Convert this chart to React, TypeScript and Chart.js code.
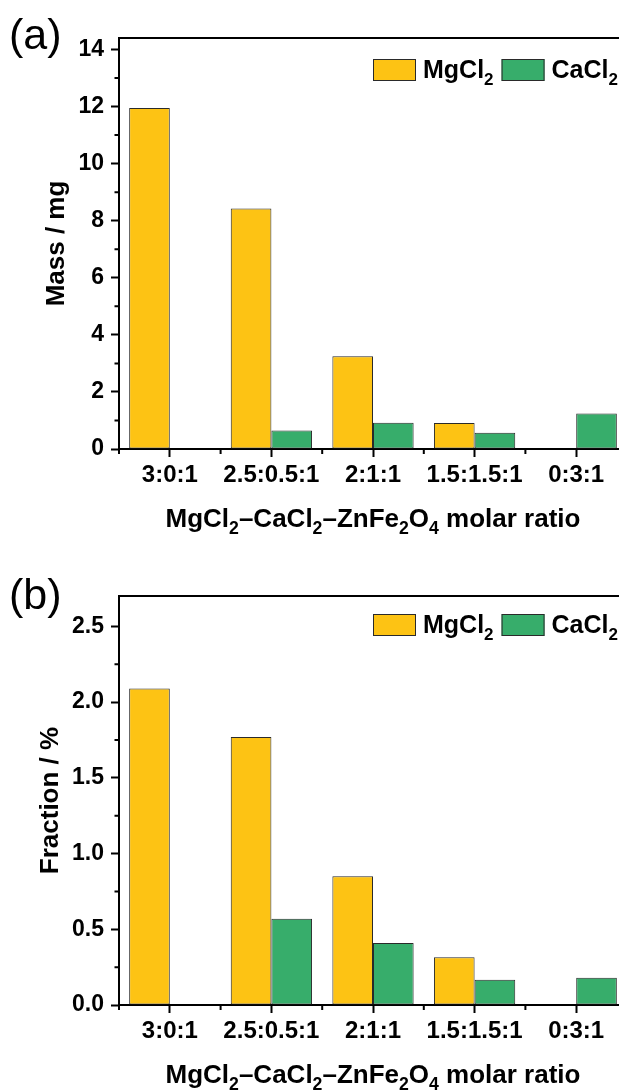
import React, { useEffect, useRef } from "react";
import { Chart, registerables } from "chart.js";

Chart.register(...registerables);

// ---------- data ----------
const categories = ["3:0:1", "2.5:0.5:1", "2:1:1", "1.5:1.5:1", "0:3:1"];
const seriesNames = ["MgCl2", "CaCl2"];
const massMgCl2 = [11.95, 8.43, 3.25, 0.91, 0];
const massCaCl2 = [0, 0.65, 0.92, 0.57, 1.24];
const fractionMgCl2 = [2.09, 1.77, 0.85, 0.315, 0];
const fractionCaCl2 = [0, 0.57, 0.41, 0.166, 0.18];
const massTicks = [0, 2, 4, 6, 8, 10, 12, 14];
const massMinorTicks = [1, 3, 5, 7, 9, 11, 13];
const fractionTicks = [0, 0.5, 1.0, 1.5, 2.0, 2.5];
const fractionMinorTicks = [0.25, 0.75, 1.25, 1.75, 2.25];
const xAxisTitle = "MgCl2–CaCl2–ZnFe2O4 molar ratio";
const massTitle = "Mass / mg";
const fractionTitle = "Fraction / %";

// ---------- style ----------
const FONT = "'Liberation Sans', Arial, Helvetica, sans-serif";
const YELLOW = "#FDC314";
const GREEN = "#37AD6B";
const EDGE = "#2a2a2a";

type Part = { t: string; sub: boolean };

function splitRich(s: string): Part[] {
  const parts: Part[] = [];
  for (let i = 0; i < s.length; i++) {
    const ch = s[i];
    const sub = /\d/.test(ch) && i > 0 && /[A-Za-z]/.test(s[i - 1]);
    const last = parts[parts.length - 1];
    if (last && last.sub === sub) last.t += ch;
    else parts.push({ t: ch, sub });
  }
  return parts;
}

function richWidth(ctx: CanvasRenderingContext2D, s: string, size: number) {
  let w = 0;
  for (const p of splitRich(s)) {
    ctx.font = `bold ${p.sub ? size * 0.68 : size}px ${FONT}`;
    w += ctx.measureText(p.t).width;
  }
  return w;
}

function drawRich(
  ctx: CanvasRenderingContext2D,
  s: string,
  x: number,
  y: number,
  size: number,
  align: "left" | "center"
) {
  const total = richWidth(ctx, s, size);
  let cx = align === "center" ? x - total / 2 : x;
  ctx.textAlign = "left";
  ctx.textBaseline = "alphabetic";
  ctx.fillStyle = "#000";
  for (const p of splitRich(s)) {
    ctx.font = `bold ${p.sub ? size * 0.68 : size}px ${FONT}`;
    ctx.fillText(p.t, cx, p.sub ? y + size * 0.27 : y);
    cx += ctx.measureText(p.t).width;
  }
  return total;
}

const decoPlugin = {
  id: "deco",
  afterDraw(chart: any, _args: any, opts: any) {
    const ctx: CanvasRenderingContext2D = chart.ctx;
    const { left, right, top, bottom } = chart.chartArea;
    const xs = chart.scales.x;
    const ys = chart.scales.y;
    ctx.save();
    // top frame line
    ctx.strokeStyle = "#000";
    ctx.lineWidth = 2;
    ctx.beginPath();
    ctx.moveTo(left - 1, top);
    ctx.lineTo(right, top);
    ctx.stroke();
    // minor y ticks
    ctx.beginPath();
    for (const v of opts.minorY as number[]) {
      const py = ys.getPixelForValue(v);
      ctx.moveTo(left - 4.5, py);
      ctx.lineTo(left, py);
    }
    // minor x ticks (category boundaries)
    for (let i = 0; i <= categories.length; i++) {
      const px = xs.getPixelForValue(i - 0.5);
      ctx.moveTo(px, bottom);
      ctx.lineTo(px, bottom + 5);
    }
    ctx.stroke();

    // legend
    const boxW = 43;
    const boxH = 22;
    const boxTop = top + opts.legendTop;
    let x = right - 254;
    chart.data.datasets.forEach((ds: any, i: number) => {
      ctx.fillStyle = ds.backgroundColor;
      ctx.fillRect(x, boxTop, boxW, boxH);
      ctx.strokeStyle = EDGE;
      ctx.lineWidth = 1;
      ctx.strokeRect(x + 0.5, boxTop + 0.5, boxW - 1, boxH - 1);
      x += boxW + 7;
      const w = drawRich(ctx, ds.label, x, boxTop + 19.3, 25, "left");
      x += w + 8;
    });

    // x axis title
    drawRich(ctx, opts.xTitle, (left + right) / 2, bottom + 78, 26, "center");

    // panel letter
    ctx.font = `normal 43px ${FONT}`;
    ctx.fillStyle = "#000";
    ctx.textAlign = "left";
    ctx.textBaseline = "alphabetic";
    ctx.fillText(opts.panel, 9, opts.panelBaseline);
    ctx.restore();
  },
};

function buildConfig(p: {
  mg: number[];
  ca: number[];
  max: number;
  ticks: number[];
  minor: number[];
  yTitle: string;
  yTitlePad: number;
  topPad: number;
  xHeight: number;
  decimals: number;
  panel: string;
  panelBaseline: number;
  legendTop: number;
}): any {
  const bw = (c: any) => (c.raw ? 1 : 0);
  return {
    type: "bar",
    data: {
      labels: categories,
      datasets: [
        {
          label: seriesNames[0],
          data: p.mg,
          backgroundColor: YELLOW,
          borderColor: EDGE,
          borderWidth: bw,
          borderSkipped: false,
          categoryPercentage: 0.8,
          barPercentage: 1.0,
        },
        {
          label: seriesNames[1],
          data: p.ca,
          backgroundColor: GREEN,
          borderColor: EDGE,
          borderWidth: bw,
          borderSkipped: false,
          categoryPercentage: 0.8,
          barPercentage: 1.0,
        },
      ],
    },
    options: {
      responsive: false,
      animation: false,
      devicePixelRatio: 1,
      layout: { padding: { top: p.topPad, left: 0, right: 0, bottom: 0 } },
      plugins: {
        legend: { display: false },
        tooltip: { enabled: false },
        deco: {
          minorY: p.minor,
          legendTop: p.legendTop,
          xTitle: xAxisTitle,
          panel: p.panel,
          panelBaseline: p.panelBaseline,
        },
      },
      scales: {
        x: {
          type: "category",
          offset: true,
          grid: {
            drawOnChartArea: false,
            offset: false,
            tickLength: 8,
            tickWidth: 2,
            tickColor: "#000",
          },
          border: { display: true, width: 2, color: "#000" },
          ticks: {
            color: "#000",
            font: { family: FONT, size: 24, weight: "bold" },
            padding: 4,
            maxRotation: 0,
            autoSkip: false,
          },
          afterFit: (s: any) => {
            s.height = p.xHeight;
          },
        },
        y: {
          type: "linear",
          min: 0,
          max: p.max,
          afterBuildTicks: (s: any) => {
            s.ticks = p.ticks.map((v) => ({ value: v }));
          },
          grid: {
            drawOnChartArea: false,
            tickLength: 8,
            tickWidth: 2,
            tickColor: "#000",
          },
          border: { display: true, width: 2, color: "#000" },
          ticks: {
            color: "#000",
            font: { family: FONT, size: 23, weight: "bold" },
            padding: 7,
            callback: (v: any) => Number(v).toFixed(p.decimals),
          },
          title: {
            display: true,
            text: p.yTitle,
            color: "#000",
            font: { family: FONT, size: 26, weight: "bold" },
            padding: { top: p.yTitlePad, bottom: 0 },
          },
          afterFit: (s: any) => {
            s.width = 119;
          },
        },
      },
    },
    plugins: [decoPlugin],
  };
}

export default function App() {
  const refA = useRef<HTMLCanvasElement>(null);
  const refB = useRef<HTMLCanvasElement>(null);

  useEffect(() => {
    document.body.style.overflow = "hidden";
    const a = new Chart(
      refA.current as HTMLCanvasElement,
      buildConfig({
        mg: massMgCl2,
        ca: massCaCl2,
        max: 14.4,
        ticks: massTicks,
        minor: massMinorTicks,
        yTitle: massTitle,
        yTitlePad: 41,
        topPad: 38,
        xHeight: 96,
        decimals: 0,
        panel: "(a)",
        panelBaseline: 49,
        legendTop: 21,
      })
    );
    const b = new Chart(
      refB.current as HTMLCanvasElement,
      buildConfig({
        mg: fractionMgCl2,
        ca: fractionCaCl2,
        max: 2.7,
        ticks: fractionTicks,
        minor: fractionMinorTicks,
        yTitle: fractionTitle,
        yTitlePad: 35,
        topPad: 51,
        xHeight: 85,
        decimals: 1,
        panel: "(b)",
        panelBaseline: 64,
        legendTop: 18,
      })
    );
    return () => {
      a.destroy();
      b.destroy();
    };
  }, []);

  return (
    <div
      style={{
        position: "relative",
        width: 627,
        height: 1090,
        margin: "-8px 0 0 -8px",
        background: "#fff",
      }}
    >
      <canvas
        ref={refA}
        width={627}
        height={545}
        style={{ position: "absolute", left: 0, top: 0, width: 627, height: 545 }}
      />
      <canvas
        ref={refB}
        width={627}
        height={545}
        style={{ position: "absolute", left: 0, top: 545, width: 627, height: 545 }}
      />
    </div>
  );
}
